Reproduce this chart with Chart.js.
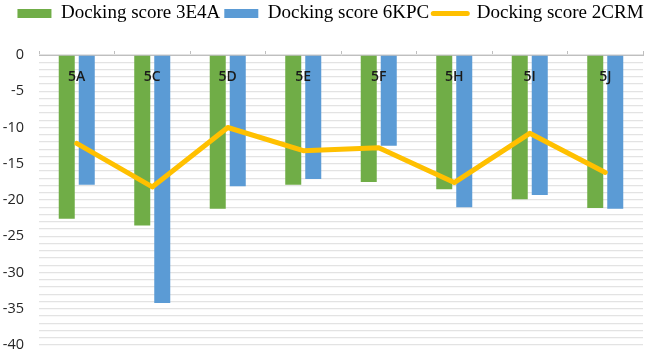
<!DOCTYPE html>
<html>
<head>
<meta charset="utf-8">
<script src="https://cdn.jsdelivr.net/npm/chart.js@4/dist/chart.umd.min.js"></script>
<style>
  html, body { margin: 0; padding: 0; background: #fff; }
  #wrap { width: 645px; height: 353px; }
</style>
</head>
<body>
<div id="wrap"><canvas id="chart"></canvas></div>
<script>
// compounds
const labels = ['5A', '5C', '5D', '5E', '5F', '5H', '5I', '5J'];

// docking scores
const score3E4A = [-22.6, -23.5, -21.2, -17.9, -17.5, -18.5, -19.9, -21.1];
const score6KPC = [-17.9, -34.2, -18.1, -17.1, -12.5, -21.0, -19.3, -21.2];
const score2CRM = [-12.2, -18.2, -10.0, -13.2, -12.8, -17.6, -10.8, -16.2];

// y axis range
const yMin = -40;
const yMax = 0;

// gap under the legend, and nudge it a bit to the right
const legendGap = {
    id: 'legendGap',
    beforeInit(chart) {
        const fit = chart.legend.fit;
        chart.legend.fit = function () {
            fit.bind(chart.legend)();
            this.height += 18;
        };
    },
    afterLayout(chart) {
        chart.legend.left += 9;
        chart.legend.right += 9;
    }
};

// category names sit inside the plot, just under the zero line
const innerLabels = {
    id: 'innerLabels',
    afterDatasetsDraw(chart) {
        const ctx = chart.ctx;
        const x = chart.scales.x;
        const y = chart.scales.y;
        ctx.save();
        ctx.font = '600 14px "Open Sans"';
        ctx.fillStyle = '#1a1a1a';
        ctx.textAlign = 'center';
        ctx.textBaseline = 'middle';
        labels.forEach((lab, i) => {
            ctx.fillText(lab, x.getPixelForValue(i), y.top + 22);
        });
        ctx.restore();
    }
};

const config = {
    data: {
        labels: labels,
        datasets: [
            {
                type: 'bar',
                label: 'Docking score 3E4A',
                data: score3E4A,
                backgroundColor: '#70AD47',
                borderColor: '#70AD47',
                borderWidth: 0,
                barPercentage: 0.8,
                categoryPercentage: 0.53
            },
            {
                type: 'bar',
                label: 'Docking score 6KPC',
                data: score6KPC,
                backgroundColor: '#5B9BD5',
                borderColor: '#5B9BD5',
                borderWidth: 0,
                barPercentage: 0.8,
                categoryPercentage: 0.53
            },
            {
                type: 'line',
                label: 'Docking score 2CRM',
                data: score2CRM,
                borderColor: '#FFC000',
                backgroundColor: '#FFC000',
                borderWidth: 5,
                borderCapStyle: 'round',
                borderJoinStyle: 'round',
                pointRadius: 0,
                tension: 0,
                order: -1
            }
        ]
    },
    options: {
        responsive: true,
        maintainAspectRatio: false,
        animation: false,
        layout: { padding: { top: 0, right: 2, left: 0, bottom: 0 } },
        plugins: {
            tooltip: { enabled: false },
            legend: {
                position: 'top',
                labels: {
                    usePointStyle: true,
                    pointStyleWidth: 34,
                    boxHeight: 9,
                    padding: 4,
                    color: '#000',
                    font: { family: '"Liberation Serif", "Times New Roman", serif', size: 19 },
                    sort: (a, b) => a.datasetIndex - b.datasetIndex,
                    generateLabels: (chart) => {
                        return chart.data.datasets.map((ds, i) => ({
                            text: ds.label,
                            fillStyle: ds.backgroundColor,
                            strokeStyle: ds.borderColor,
                            lineWidth: ds.type === 'line' ? 5 : 0,
                            lineCap: 'round',
                            pointStyle: ds.type === 'line' ? 'line' : 'rect',
                            datasetIndex: i,
                            hidden: false
                        }));
                    }
                }
            }
        },
        scales: {
            x: {
                position: 'top',
                offset: true,
                grid: {
                    offset: true,
                    drawOnChartArea: false,
                    drawTicks: true,
                    tickLength: 4,
                    color: '#bfbfbf'
                },
                border: { display: true, color: '#bfbfbf', width: 1 },
                ticks: { display: false }
            },
            y: {
                min: yMin,
                max: yMax,
                afterFit: (scale) => {
                    scale.width = 39;
                    scale.paddingBottom = 8;
                    scale.paddingTop = 8;
                },
                grid: {
                    color: '#e3e3e3',
                    lineWidth: 1.3,
                    drawTicks: false
                },
                border: { display: false },
                ticks: {
                    stepSize: 1,
                    autoSkip: false,
                    padding: 15,
                    color: '#262626',
                    font: { family: '"Open Sans", sans-serif', size: 14.5 },
                    callback: (v) => (v % 5 === 0 ? v : '')
                }
            }
        }
    },
    plugins: [legendGap, innerLabels]
};

const myChart = new Chart(document.getElementById('chart'), config);
</script>
</body>
</html>
